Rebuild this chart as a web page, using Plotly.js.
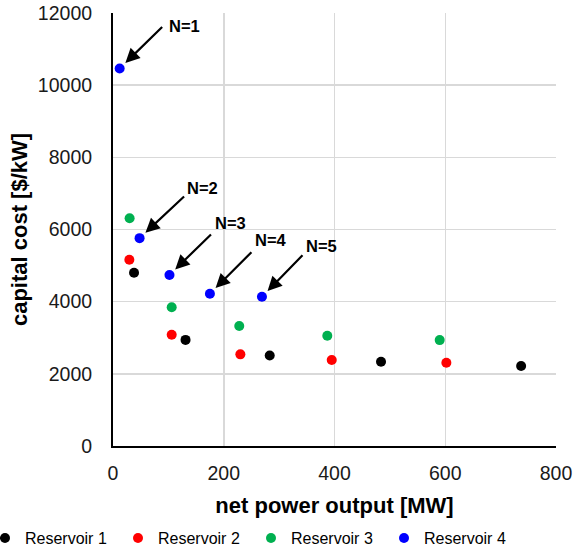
<!DOCTYPE html>
<html>
<head>
<meta charset="utf-8">
<script src="https://cdn.plot.ly/plotly-3.0.1.min.js"></script>
<style>html,body{margin:0;padding:0;background:#fff;}#chart{width:576px;height:554px;}</style>
</head>
<body>
<div id="chart"></div>
<script>
// ---- data ----
var seriesNames = ['Reservoir 1', 'Reservoir 2', 'Reservoir 3', 'Reservoir 4'];
var res1X = [38, 131, 283, 484, 737];
var res1Y = [4800, 2940, 2510, 2335, 2215];
var res2X = [29.5, 106, 230, 395, 602];
var res2Y = [5160, 3085, 2540, 2385, 2305];
var res3X = [30, 106, 228, 387, 590];
var res3Y = [6310, 3845, 3325, 3055, 2935];
var res4X = [12, 48, 102, 175, 269];
var res4Y = [10460, 5760, 4740, 4220, 4135];
var nLabels = ['N=1', 'N=2', 'N=3', 'N=4', 'N=5'];
var xTicks = [0, 200, 400, 600, 800];
var yTicks = [0, 2000, 4000, 6000, 8000, 10000, 12000];

var colors = ['#000000', '#ff0000', '#00b050', '#0000ff'];
var xs = [res1X, res2X, res3X, res4X];
var ys = [res1Y, res2Y, res3Y, res4Y];

var traces = seriesNames.map(function (name, i) {
  return {
    type: 'scatter', mode: 'markers', name: name,
    x: xs[i], y: ys[i],
    marker: {color: colors[i], size: 10},
    cliponaxis: false
  };
});

var FONT = 'Liberation Sans, Arial, sans-serif';

// pixel offsets (style) for arrows and labels relative to the blue points
var arrowOff = [[44, -43], [46, -43], [43, -42], [43, -43], [42, -43]];
var textOff = [[65, 43], [63, 50], [61, 52], [61, 54], [60, 51]];

var annotations = [];
nLabels.forEach(function (lab, i) {
  annotations.push({
    xref: 'x', yref: 'y', x: res4X[i], y: res4Y[i],
    text: '', showarrow: true, arrowhead: 2, arrowsize: 1.3, arrowwidth: 2.2,
    arrowcolor: '#000', standoff: 8,
    ax: arrowOff[i][0], ay: arrowOff[i][1]
  });
  annotations.push({
    xref: 'x', yref: 'y', x: res4X[i], y: res4Y[i],
    text: '<b>' + lab + '</b>', showarrow: false,
    xshift: textOff[i][0], yshift: textOff[i][1],
    font: {family: FONT, size: 16.5, color: '#000'}
  });
});

var layout = {
  width: 576, height: 554,
  margin: {l: 113, r: 20, t: 13, b: 108, autoexpand: false},
  paper_bgcolor: '#fff', plot_bgcolor: '#fff',
  font: {family: FONT, color: '#000'},
  showlegend: true,
  legend: {
    orientation: 'h', xref: 'paper', x: -0.2551, xanchor: 'left',
    yref: 'paper', y: -0.2125, yanchor: 'middle',
    font: {family: FONT, size: 16, color: '#000'},
    entrywidth: 103, entrywidthmode: 'pixels', indentation: -15,
    bgcolor: 'rgba(0,0,0,0)'
  },
  xaxis: {
    range: [0, 800], tickvals: xTicks, ticktext: xTicks.map(String),
    showgrid: true, gridcolor: '#d9d9d9', gridwidth: 1.5,
    showline: true, linecolor: '#000', linewidth: 2,
    zeroline: false, ticks: '', ticklabelstandoff: 9,
    tickfont: {family: FONT, size: 19.5, color: '#1a1a1a'},
    title: {text: '<b>net power output [MW]</b>', font: {family: FONT, size: 22, color: '#000'}, standoff: 14},
    automargin: false, fixedrange: true
  },
  yaxis: {
    range: [0, 12000], tickvals: yTicks, ticktext: yTicks.map(String),
    showgrid: true, gridcolor: '#d9d9d9', gridwidth: 1.5,
    showline: true, linecolor: '#000', linewidth: 2,
    zeroline: false, ticks: '', ticklabelstandoff: 15,
    tickfont: {family: FONT, size: 19.5, color: '#1a1a1a'},
    title: {text: '<b>capital cost [$/kW]</b>', font: {family: FONT, size: 22, color: '#000'}, standoff: 4},
    automargin: false, fixedrange: true
  },
  annotations: annotations
};

Plotly.newPlot('chart', traces, layout, {displayModeBar: false, staticPlot: true});
</script>
</body>
</html>
